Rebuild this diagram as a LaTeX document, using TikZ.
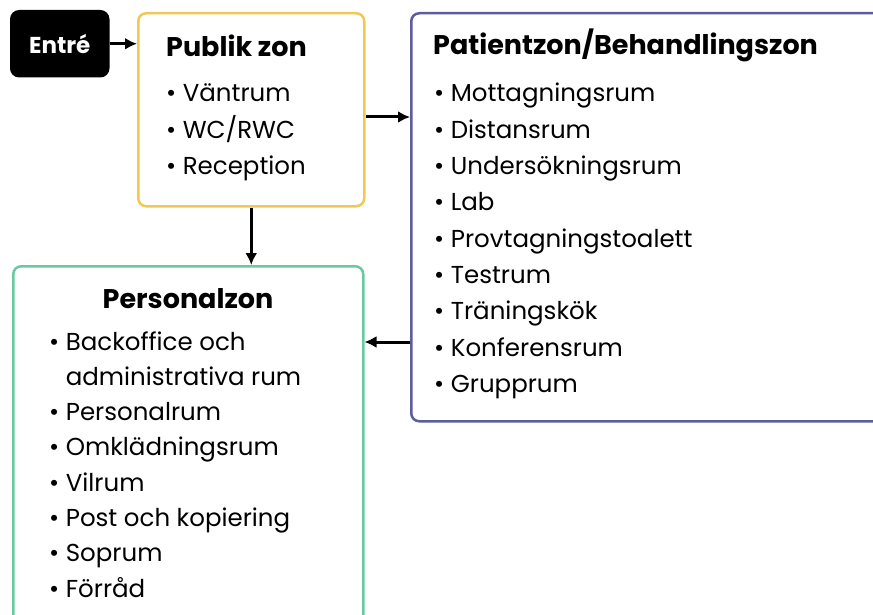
\documentclass[tikz,border=0pt]{standalone}
\usepackage{fontspec}
\setmainfont{Poppins}
\usetikzlibrary{arrows.meta, positioning}
\definecolor{gulkant}{RGB}{240,200,84}
\definecolor{lilakant}{RGB}{92,92,158}
\definecolor{gronkant}{RGB}{104,202,162}
\tikzset{
    zon/.style={draw, line width=2.5pt, rounded corners=8pt, fill=white, anchor=north west, inner sep=0pt},
    rubrik/.style={font=\fontsize{27}{32}\selectfont\bfseries, anchor=base west, inner sep=0pt},
    punkt/.style={font=\fontsize{24.5}{28}\selectfont, anchor=base west, inner sep=0pt},
    pil/.style={-{Latex[length=12pt,width=12pt]}, line width=3pt},
}

\begin{document}
\begin{tikzpicture}[x=1pt, y=-1pt]
    \useasboundingbox (0,0) rectangle (873,615);
    \clip (0,0) rectangle (873,615);
    % zoner
    \node[zon, fill=black, draw=black, minimum width=97pt, minimum height=65pt, text=white, font=\fontsize{23}{27}\selectfont\bfseries, anchor=north west, inner sep=0pt] (entre) at (10,10) {Entré};
    \node[zon, draw=gulkant, minimum width=226pt, minimum height=193pt] (publik) at (137,12) {};
    \node[zon, draw=lilakant, minimum width=500pt, minimum height=408pt] (patient) at (410,12) {};
    \node[zon, draw=gronkant, minimum width=350pt, minimum height=400pt] (personal) at (12,265) {};
    % publik zon
    \node[rubrik] (publiktitel) at (166,57) {Publik zon};
    \foreach \t [count=\i] in {Väntrum, WC/RWC, Reception}
        \node[punkt] (pu\i) at (166,102+36.5*\i-36.5) {• \t};
    % patientzon
    \node[rubrik] (patienttitel) at (433,55) {Patientzon/Behandlingszon};
    \foreach \t [count=\i] in {Mottagningsrum, Distansrum, Undersökningsrum, Lab, Provtagningstoalett, Testrum, Träningskök, Konferensrum, Grupprum}
        \node[punkt] (pa\i) at (434,102+36.3*\i-36.3) {• \t};
    % personalzon
    \node[rubrik, anchor=base] (personaltitel) at (188,308) {Personalzon};
    \node[punkt] (pe1) at (49,350) {• Backoffice och};
    \node[punkt] (pe1b) at (49,385.3) {\phantom{• }administrativa rum};
    \foreach \t [count=\i from 2] in {Personalrum, Omklädningsrum, Vilrum, Post och kopiering, Soprum, Förråd}
        \node[punkt] (pe\i) at (49,350+35.3*\i) {• \t};
    % pilar
    \draw[pil] (entre.east) -- (entre.east -| publik.west);
    \draw[pil] (publik.east |- 0,117) -- (patient.west |- 0,117);
    \draw[pil] (publik.south) -- (publik.south |- personal.north);
    \draw[pil] (patient.west |- 0,342) -- (personal.east |- 0,342);
\end{tikzpicture}
\end{document}
